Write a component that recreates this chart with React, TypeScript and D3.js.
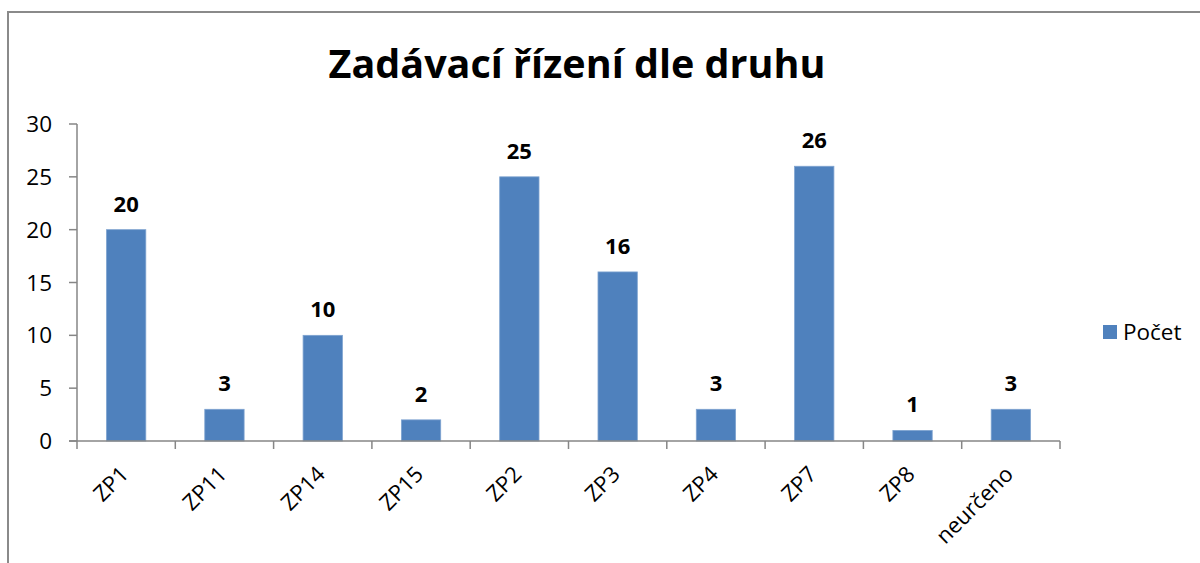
import React, { useRef, useEffect } from "react";
import * as d3 from "d3";

const categories = ["ZP1", "ZP11", "ZP14", "ZP15", "ZP2", "ZP3", "ZP4", "ZP7", "ZP8", "neurčeno"];
const counts = [20, 3, 10, 2, 25, 16, 3, 26, 1, 3];
const yTicks = [0, 5, 10, 15, 20, 25, 30];
const seriesName = "Počet";
const title = "Zadávací řízení dle druhu";

const W = 1200;
const H = 563;
const FONT = "'Open Sans', 'Noto Sans', sans-serif";

export default function App() {
  const svgRef = useRef<SVGSVGElement>(null);

  useEffect(() => {
    const svg = d3.select(svgRef.current);
    svg.selectAll("*").remove();

    const x = d3.scaleBand<string>().domain(categories).range([77, 1060]).paddingInner(0.6).paddingOuter(0.3);
    const y = d3.scaleLinear().domain([0, 30]).range([441, 124]);

    // frame
    svg
      .append("rect")
      .attr("x", 8)
      .attr("y", 12)
      .attr("width", W)
      .attr("height", H)
      .attr("fill", "white")
      .attr("stroke", "#8a8a8a")
      .attr("stroke-width", 2);

    svg
      .append("text")
      .attr("x", 577)
      .attr("y", 78)
      .attr("text-anchor", "middle")
      .attr("font-family", FONT)
      .attr("font-weight", "bold")
      .attr("font-size", 39.5)
      .text(title);

    // y axis
    const yAxis = svg.append("g");
    yAxis
      .append("line")
      .attr("x1", 77)
      .attr("x2", 77)
      .attr("y1", y(30))
      .attr("y2", y(0))
      .attr("stroke", "#868686")
      .attr("stroke-width", 1.5);
    yAxis
      .selectAll(".yt")
      .data(yTicks)
      .join("line")
      .attr("x1", 69)
      .attr("x2", 77)
      .attr("y1", (d) => y(d))
      .attr("y2", (d) => y(d))
      .attr("stroke", "#868686")
      .attr("stroke-width", 1.5);
    yAxis
      .selectAll(".yl")
      .data(yTicks)
      .join("text")
      .attr("x", 52)
      .attr("y", (d) => y(d))
      .attr("dy", "0.36em")
      .attr("text-anchor", "end")
      .attr("font-family", FONT)
      .attr("font-size", 22.5)
      .text((d) => d);

    // bars
    svg
      .selectAll(".bar")
      .data(counts)
      .join("rect")
      .attr("x", (d, i) => x(categories[i])!)
      .attr("y", (d) => y(d))
      .attr("width", x.bandwidth())
      .attr("height", (d) => y(0) - y(d))
      .attr("fill", "#4F81BD")
      .attr("stroke", "#7ea3d0")
      .attr("stroke-width", 0.8);

    svg
      .selectAll(".val")
      .data(counts)
      .join("text")
      .attr("x", (d, i) => x(categories[i])! + x.bandwidth() / 2)
      .attr("y", (d) => y(d) - 18)
      .attr("text-anchor", "middle")
      .attr("font-family", FONT)
      .attr("font-weight", "bold")
      .attr("font-size", 22)
      .text((d) => d);

    // x axis
    const step = (1060 - 77) / categories.length;
    const xAxis = svg.append("g");
    xAxis
      .append("line")
      .attr("x1", 69)
      .attr("x2", 1060)
      .attr("y1", y(0))
      .attr("y2", y(0))
      .attr("stroke", "#868686")
      .attr("stroke-width", 1.5);
    xAxis
      .selectAll(".xt")
      .data(d3.range(categories.length + 1))
      .join("line")
      .attr("x1", (i) => 77 + i * step)
      .attr("x2", (i) => 77 + i * step)
      .attr("y1", y(0))
      .attr("y2", y(0) + 8)
      .attr("stroke", "#868686")
      .attr("stroke-width", 1.5);
    xAxis
      .selectAll(".xl")
      .data(categories)
      .join("text")
      .attr("transform", (d) => `translate(${x(d)! + x.bandwidth() / 2 - 8},${y(0) + 23}) rotate(-45)`)
      .attr("text-anchor", "end")
      .attr("dy", "0.75em")
      .attr("font-family", FONT)
      .attr("font-size", 22)
      .text((d) => d);

    // legend
    svg
      .append("rect")
      .attr("x", 1103)
      .attr("y", 325)
      .attr("width", 14)
      .attr("height", 14)
      .attr("fill", "#4F81BD");
    svg
      .append("text")
      .attr("x", 1123)
      .attr("y", 332)
      .attr("dy", "0.36em")
      .attr("font-family", FONT)
      .attr("font-size", 22.5)
      .text(seriesName);
  }, []);

  return (
    <div style={{ position: "absolute", left: 0, top: 0 }}>
      <svg ref={svgRef} width={W} height={H}></svg>
    </div>
  );
}
